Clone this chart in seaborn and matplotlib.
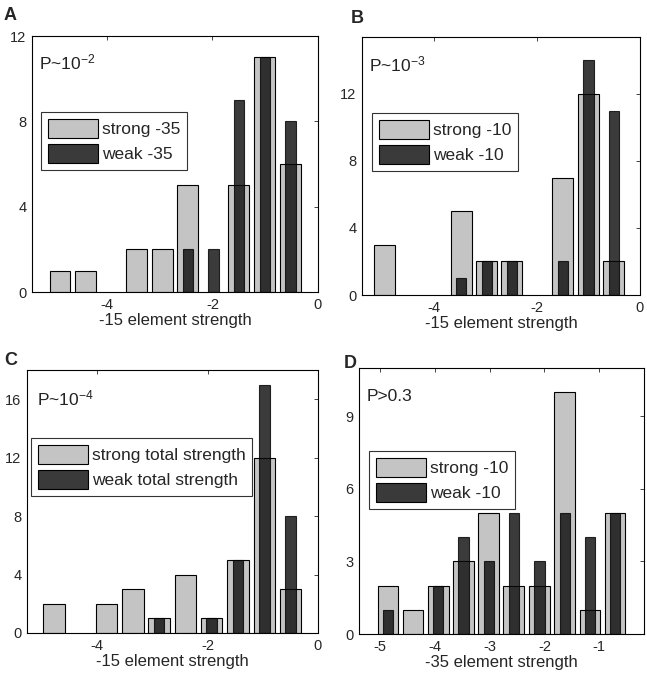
import pandas as pd
import seaborn as sns
import matplotlib.pyplot as plt
from matplotlib.patches import Patch

# bin centres and counts
centers_a = [-4.89, -4.41, -3.92, -3.44, -2.95, -2.47, -1.98, -1.50, -1.01, -0.52]
strong_a = [1, 1, 0, 2, 2, 5, 0, 5, 11, 6]
weak_a = [0, 0, 0, 0, 0, 2, 2, 9, 11, 8]

centers_b = [-4.96, -4.47, -3.97, -3.47, -2.98, -2.49, -1.99, -1.50, -1.00, -0.51]
strong_b = [3, 0, 0, 5, 2, 2, 0, 7, 12, 2]
weak_b = [0, 0, 0, 1, 2, 2, 0, 2, 14, 11]

centers_c = [-4.78, -4.30, -3.83, -3.35, -2.88, -2.40, -1.93, -1.45, -0.97, -0.50]
strong_c = [2, 0, 2, 3, 1, 4, 1, 5, 12, 3]
weak_c = [0, 0, 0, 0, 1, 0, 1, 5, 17, 8]

centers_d = [-4.86, -4.40, -3.94, -3.48, -3.02, -2.56, -2.09, -1.63, -1.17, -0.71]
strong_d = [2, 1, 2, 3, 5, 2, 2, 10, 1, 5]
weak_d = [1, 0, 2, 4, 3, 5, 3, 5, 4, 5]

panels = [
    dict(letter='A', centers=centers_a, strong=strong_a, weak=weak_a,
         labels=['strong -35', 'weak -35'], ptext=r'P~10$^{-2}$',
         xlabel='-15 element strength', xlim=(-5.42, 0), ylim=(0, 12),
         xticks=[-4, -2, 0], yticks=[0, 4, 8, 12],
         rect=(32, 36, 318, 292), legend_at=(41, 112), ptext_at=(39, 53),
         letter_at=(4, 7)),
    dict(letter='B', centers=centers_b, strong=strong_b, weak=weak_b,
         labels=['strong -10', 'weak -10'], ptext=r'P~10$^{-3}$',
         xlabel='-15 element strength', xlim=(-5.4, 0), ylim=(0, 15.4),
         xticks=[-4, -2, 0], yticks=[0, 4, 8, 12],
         rect=(362, 37, 640, 295), legend_at=(372, 113), ptext_at=(369, 55),
         letter_at=(351, 10)),
    dict(letter='C', centers=centers_c, strong=strong_c, weak=weak_c,
         labels=['strong total strength', 'weak total strength'], ptext=r'P~10$^{-4}$',
         xlabel='-15 element strength', xlim=(-5.27, 0), ylim=(0, 18),
         xticks=[-4, -2, 0], yticks=[0, 4, 8, 12, 16],
         rect=(27, 370, 318, 633), legend_at=(31, 438), ptext_at=(37, 388),
         letter_at=(4, 352)),
    dict(letter='D', centers=centers_d, strong=strong_d, weak=weak_d,
         labels=['strong -10', 'weak -10'], ptext='P>0.3',
         xlabel='-35 element strength', xlim=(-5.39, -0.18), ylim=(0, 11),
         xticks=[-5, -4, -3, -2, -1], yticks=[0, 3, 6, 9],
         rect=(359, 368, 644, 634), legend_at=(369, 451), ptext_at=(367, 389),
         letter_at=(344, 355)),
]

W, H = 647, 677
STRONG = '#c4c4c4'
WEAK = '#0a0a0a'
WEAK_ALPHA = 0.8

sns.set_style('white')
plt.rcParams['font.family'] = ['Liberation Sans', 'DejaVu Sans']
plt.rcParams['mathtext.default'] = 'regular'
plt.rcParams['axes.edgecolor'] = 'black'
plt.rcParams['axes.linewidth'] = 0.8

fig = plt.figure(figsize=(W / 100, H / 100), dpi=100)

for p in panels:
    l, t, r, b = p['rect']
    ax = fig.add_axes([l / W, 1 - b / H, (r - l) / W, (b - t) / H])

    df = pd.DataFrame({'x': p['centers'], 'strong': p['strong'], 'weak': p['weak']})
    s = df[df['strong'] > 0]
    w = df[df['weak'] > 0]
    # native_scale width is relative to the smallest gap between the drawn bars
    step_all = min(b2 - a2 for a2, b2 in zip(p['centers'], p['centers'][1:]))
    xs, xw = s['x'].tolist(), w['x'].tolist()
    step_s = min(b2 - a2 for a2, b2 in zip(xs, xs[1:]))
    step_w = min(b2 - a2 for a2, b2 in zip(xw, xw[1:]))
    sns.barplot(data=s, x='x', y='strong', native_scale=True, width=0.82 * step_all / step_s,
                color=STRONG, saturation=1, edgecolor='black', linewidth=0.8, ax=ax)
    sns.barplot(data=w, x='x', y='weak', native_scale=True, width=0.4 * step_all / step_w,
                color=WEAK, saturation=1, alpha=WEAK_ALPHA, edgecolor='black',
                linewidth=0.8, ax=ax)

    ax.set_xlim(*p['xlim'])
    ax.set_ylim(*p['ylim'])
    ax.set_xticks(p['xticks'])
    ax.set_xticklabels([str(v) for v in p['xticks']])
    ax.set_yticks(p['yticks'])
    ax.set_ylabel('')
    ax.set_xlabel(p['xlabel'], fontsize=12, labelpad=1)
    ax.tick_params(direction='in', top=True, right=True, length=3, width=0.6,
                   labelsize=10.5, pad=4)
    for sp in ax.spines.values():
        sp.set_visible(True)
        sp.set_color('black')

    px, py = p['ptext_at']
    ax.text((px - l) / (r - l), (b - py) / (b - t), p['ptext'], transform=ax.transAxes,
            ha='left', va='top', fontsize=12.5, color='#222222')

    lx, ly = p['legend_at']
    handles = [Patch(facecolor=STRONG, edgecolor='black', linewidth=0.8),
               Patch(facecolor='#3a3a3a', edgecolor='black', linewidth=0.8)]
    leg = ax.legend(handles, p['labels'], loc='upper left',
                    bbox_to_anchor=((lx - l) / (r - l), (b - ly) / (b - t)),
                    borderaxespad=0, fontsize=12.5, frameon=True, fancybox=False,
                    handlelength=2.9, handleheight=1.35, handletextpad=0.2,
                    labelspacing=0.3, borderpad=0.4)
    leg.get_frame().set_edgecolor('black')
    leg.get_frame().set_linewidth(0.8)

    fx, fy = p['letter_at']
    fig.text(fx / W, 1 - fy / H, p['letter'], ha='left', va='top',
             fontsize=13, fontweight='bold')

plt.savefig('out.png', dpi=100)
plt.close()
